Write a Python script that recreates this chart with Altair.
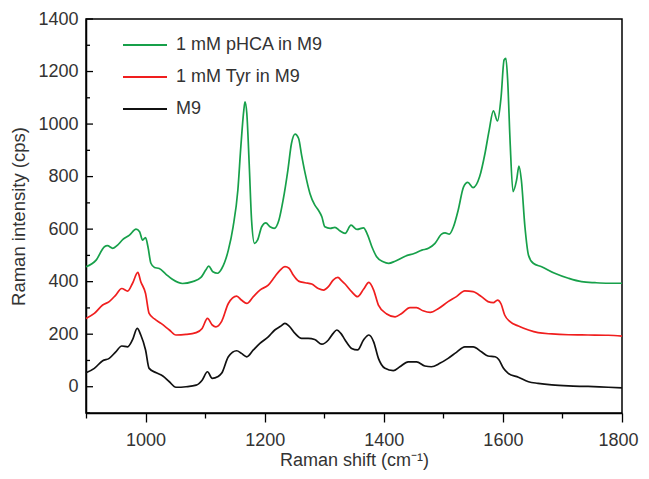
import altair as alt
import pandas as pd

SERIES = ["1 mM pHCA in M9", "1 mM Tyr in M9", "M9"]
COLORS = ["#17a04a", "#f01e1e", "#111111"]

green_x = [900, 917, 931, 936, 945, 953, 962, 973, 984, 990,
           995, 1000, 1004, 1009, 1015, 1023, 1034, 1045, 1062, 1079,
           1093, 1101, 1106, 1113, 1121, 1128, 1139, 1147, 1155, 1160,
           1165, 1167, 1170, 1174, 1178, 1183, 1188, 1195, 1202, 1209,
           1216, 1224, 1231, 1239, 1245, 1251, 1257, 1262, 1268, 1276,
           1284, 1290, 1296, 1301, 1310, 1318, 1326, 1335, 1345, 1355,
           1366, 1373, 1380, 1388, 1399, 1408, 1419, 1436, 1452, 1464,
           1475, 1486, 1497, 1503, 1510, 1517, 1525, 1534, 1541, 1550,
           1561, 1570, 1577, 1584, 1591, 1597, 1602, 1605, 1608, 1612,
           1617, 1623, 1627, 1631, 1637, 1643, 1651, 1665, 1687, 1710,
           1732, 1755, 1777, 1800]
green_y = [457, 482, 533, 537, 527, 539, 561, 577, 600, 590,
           558, 568, 533, 470, 454, 450, 429, 409, 393, 400,
           416, 444, 459, 438, 432, 450, 520, 609, 749, 914,
           1053, 1085, 1041, 850, 635, 546, 558, 609, 624, 609,
           603, 635, 711, 825, 926, 962, 945, 882, 812, 736,
           692, 673, 647, 609, 603, 607, 594, 584, 615, 599,
           605, 577, 533, 495, 476, 470, 478, 497, 508, 520,
           527, 546, 581, 586, 581, 609, 673, 761, 778, 758,
           800, 889, 977, 1050, 1012, 1104, 1244, 1250, 1168, 939,
           743, 787, 840, 787, 609, 501, 470, 457, 432, 413,
           400, 396, 394, 394]

red_x = [900, 914, 928, 939, 950, 960, 970, 978, 987, 992,
         1000, 1006, 1015, 1026, 1040, 1051, 1068, 1085, 1095, 1104,
         1112, 1118, 1128, 1139, 1153, 1161, 1170, 1181, 1192, 1206,
         1217, 1226, 1234, 1241, 1248, 1257, 1268, 1279, 1290, 1299,
         1307, 1315, 1323, 1329, 1335, 1346, 1356, 1366, 1375, 1383,
         1391, 1405, 1419, 1430, 1444, 1455, 1466, 1478, 1492, 1508,
         1522, 1536, 1550, 1564, 1575, 1584, 1591, 1597, 1603, 1612,
         1626, 1643, 1659, 1682, 1710, 1743, 1777, 1800]
red_y = [260, 279, 311, 324, 349, 374, 364, 393, 435, 400,
         355, 279, 258, 241, 216, 197, 199, 206, 222, 260,
         235, 228, 250, 317, 345, 330, 317, 343, 368, 387,
         419, 444, 457, 451, 425, 402, 396, 391, 374, 368,
         381, 406, 416, 404, 391, 362, 343, 371, 397, 368,
         311, 277, 266, 279, 301, 301, 289, 283, 298, 324,
         343, 365, 362, 343, 324, 320, 330, 315, 273, 248,
         231, 216, 206, 201, 198, 197, 196, 193]

black_x = [900, 914, 928, 939, 950, 960, 970, 978, 986, 992,
           1000, 1006, 1018, 1029, 1040, 1051, 1068, 1085, 1095, 1104,
           1112, 1121, 1128, 1139, 1153, 1161, 1170, 1181, 1192, 1206,
           1217, 1226, 1234, 1241, 1251, 1262, 1273, 1284, 1296, 1307,
           1315, 1321, 1328, 1335, 1346, 1356, 1366, 1375, 1383, 1391,
           1402, 1416, 1427, 1441, 1455, 1469, 1480, 1494, 1508, 1522,
           1536, 1550, 1564, 1575, 1587, 1593, 1601, 1609, 1626, 1643,
           1659, 1682, 1710, 1743, 1777, 1800]
black_y = [53, 70, 99, 108, 133, 155, 152, 178, 222, 197,
           140, 70, 53, 41, 19, -2, 0, 6, 25, 57,
           32, 38, 52, 114, 137, 127, 114, 140, 165, 190,
           216, 229, 241, 231, 203, 184, 184, 180, 162, 178,
           203, 216, 203, 178, 146, 140, 178, 197, 171, 108,
           70, 61, 76, 95, 95, 79, 76, 89, 108, 131,
           152, 152, 133, 117, 114, 104, 70, 51, 36, 19,
           13, 7, 3, 1, -2, -4]

x_ticks = [900, 1000, 1100, 1200, 1300, 1400, 1500, 1600, 1700, 1800]
y_major = [0, 200, 400, 600, 800, 1000, 1200, 1400]
y_minor = [-100, 100, 300, 500, 700, 900, 1100, 1300]

rows = []
for name, xs, ys in [(SERIES[0], green_x, green_y), (SERIES[1], red_x, red_y), (SERIES[2], black_x, black_y)]:
    assert len(xs) == len(ys), name
    for a, b in zip(xs, ys):
        rows.append({"series": name, "x": a, "y": b})
df = pd.DataFrame(rows)

FONT = "Liberation Sans"
xscale = alt.Scale(domain=[900, 1800], nice=False, zero=False)
yscale = alt.Scale(domain=[-100, 1400], nice=False, zero=False)
YTITLE = "Raman intensity (cps)"
yaxis = alt.Axis(values=y_major, format="d", tickSize=0, labelPadding=8,
                 labelFlush=False, labelOverlap=False, grid=False, titlePadding=9)

lines = alt.Chart(df).mark_line(strokeWidth=1.7, interpolate="monotone").encode(
    x=alt.X("x:Q", scale=xscale, title="Raman shift (cm⁻¹)",
            axis=alt.Axis(values=x_ticks, format="d",
                          labelExpr="datum.value % 200 == 0 ? datum.label : ''",
                          tickSize={"condition": {"test": "datum.value % 200 == 0", "value": 9}, "value": 5},
                          labelOffset={"condition": {"test": "datum.value == 1800", "value": -4}, "value": 0},
                          labelPadding=9, labelFlush=False, labelOverlap=False, grid=False,
                          titlePadding=2, titleFontSize=18)),
    y=alt.Y("y:Q", scale=yscale, title=YTITLE, axis=yaxis),
    color=alt.Color("series:N", scale=alt.Scale(domain=SERIES, range=COLORS),
                    legend=alt.Legend(orient="none", legendX=36, legendY=3, title=None,
                                      symbolType="stroke", symbolSize=1936, symbolStrokeWidth=2,
                                      labelFontSize=18, labelFont=FONT, labelColor="#333333",
                                      rowPadding=-8, labelOffset=8, padding=0, labelLimit=400)),
)

ymaj_df = pd.DataFrame({"y": y_major})
ymin_df = pd.DataFrame({"y": y_minor})
ytick_major = alt.Chart(ymaj_df).mark_rule(color="black", strokeWidth=1.3).encode(
    y=alt.Y("y:Q", scale=yscale, title=YTITLE, axis=yaxis), x=alt.value(0), x2=alt.value(7))
ytick_minor = alt.Chart(ymin_df).mark_rule(color="black", strokeWidth=1.3).encode(
    y=alt.Y("y:Q", scale=yscale, title=YTITLE, axis=yaxis), x=alt.value(0), x2=alt.value(4))

chart = alt.layer(lines, ytick_major, ytick_minor).properties(
    width=536, height=394,
    autosize=alt.AutoSizeParams(type="none"),
    padding={"left": 78, "top": 11, "right": 19, "bottom": 58},
).configure_view(stroke="black", strokeWidth=1.5).configure_axis(
    domainColor="black", domainWidth=1.5, tickColor="black", tickWidth=1.3,
    labelFont=FONT, labelFontSize=18, labelColor="#333333",
    titleFont=FONT, titleFontSize=18.5, titleFontWeight="normal", titleColor="#333333",
)

chart.save("out.html", embed_options={"renderer": "svg", "actions": False})
